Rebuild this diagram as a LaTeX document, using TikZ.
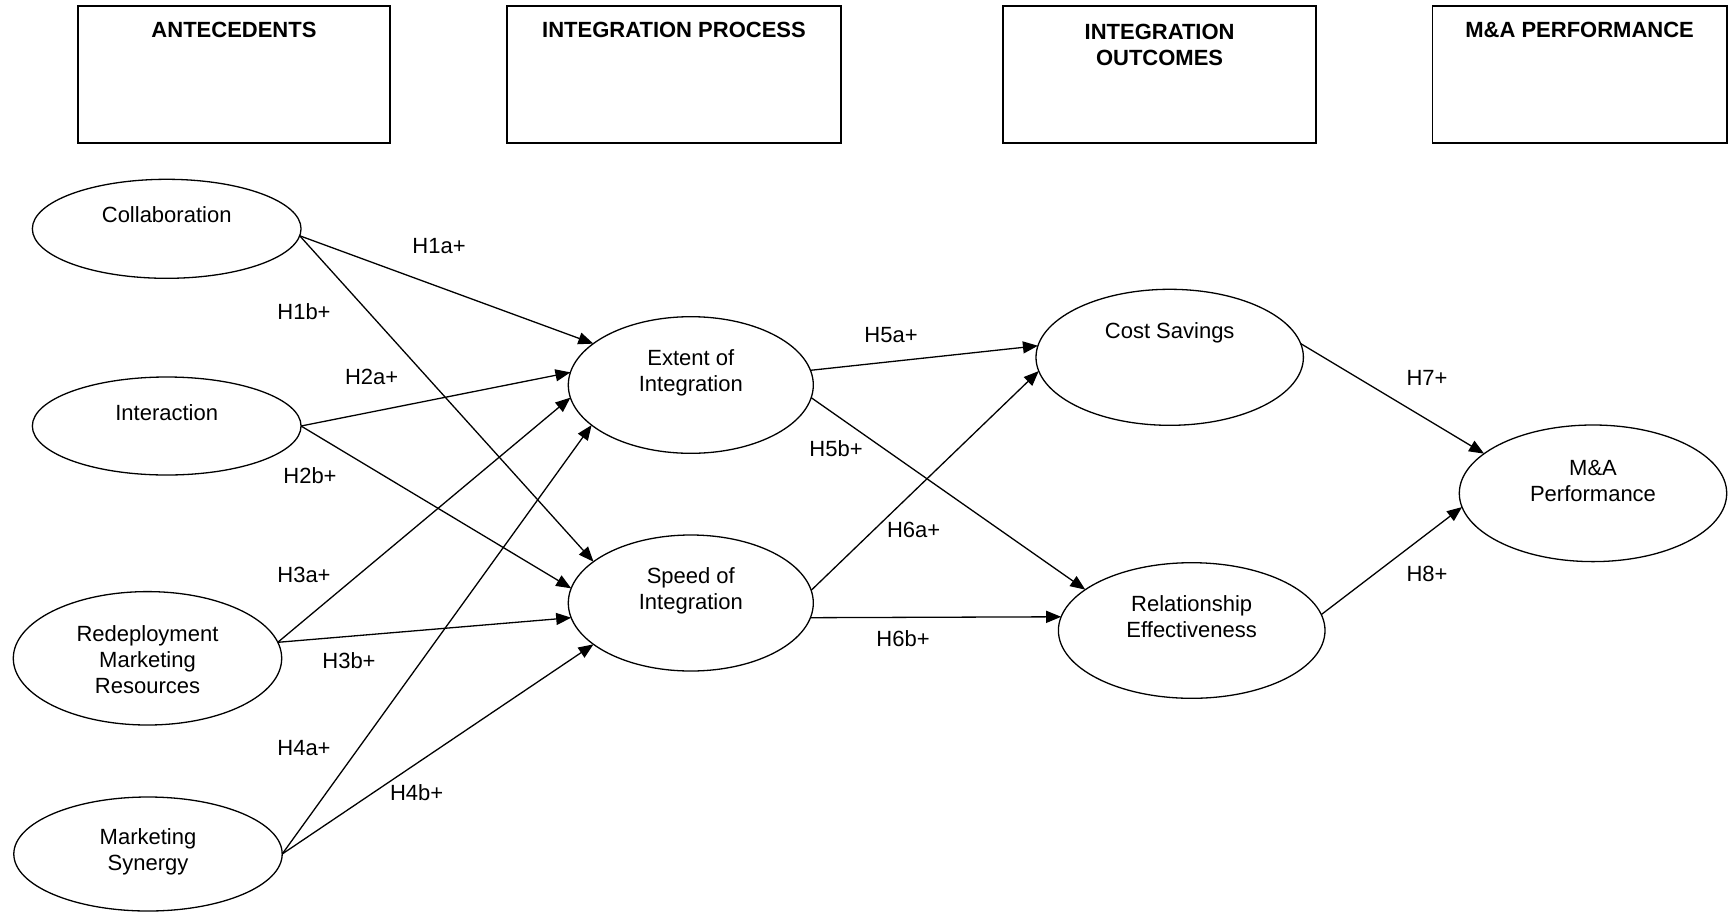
\documentclass[tikz,border=0pt]{standalone}
\usepackage{fontspec}
\setmainfont{Liberation Sans}
\usetikzlibrary{shapes.geometric,arrows.meta}
\begin{document}
\begin{tikzpicture}[x=0.5pt,y=-0.5pt,
  font=\fontsize{11}{13}\selectfont,
  hbox/.style={draw, line width=0.8pt, inner sep=0pt, outer sep=0pt},
  htext/.style={font=\fontsize{11}{13}\selectfont\bfseries, inner sep=0pt, align=center},
  oval/.style={ellipse, draw, line width=0.65pt, inner sep=0pt, outer sep=0pt},
  otext/.style={inner sep=0pt, align=center},
  conn/.style={line width=0.65pt, -{Triangle[length=7.5pt,width=6pt]}},
  hyp/.style={inner sep=0pt, anchor=base}
]
\fill[white] (0,0) rectangle (1735,911);
\useasboundingbox (0,0) rectangle (1735,911);

% header boxes
\node[hbox, minimum width=156pt, minimum height=68.4pt] (b1) at (234,74.4) {};
\node[hbox, minimum width=167pt, minimum height=68.4pt] (b2) at (674,74.4) {};
\node[hbox, minimum width=156.5pt, minimum height=68.4pt] (b3) at (1159.5,74.4) {};
\node[hbox, minimum width=147.3pt, minimum height=68.4pt] (b4) at (1579.8,74.4) {};
\node[htext, anchor=base] (t1) at (234,37.3) {ANTECEDENTS};
\node[htext, anchor=base] (t2) at (674,37.3) {INTEGRATION PROCESS};
\node[htext, anchor=north] (t3) at (1159.6,23.3) {INTEGRATION\\OUTCOMES};
\node[htext, anchor=base] (t4) at (1579.6,37.3) {M\&A PERFORMANCE};

% ellipses
\node[oval, minimum width=134.35pt, minimum height=49.5pt] (collab) at (166.7,228.8) {};
\node[oval, minimum width=134.35pt, minimum height=49pt] (inter) at (166.7,426) {};
\node[oval, minimum width=134.2pt, minimum height=66.7pt] (redeploy) at (147.5,658.3) {};
\node[oval, minimum width=134.2pt, minimum height=57pt] (synergy) at (148,854) {};
\node[oval, minimum width=122.5pt, minimum height=68.3pt] (extent) at (690.8,385) {};
\node[oval, minimum width=122.5pt, minimum height=68pt] (speed) at (690.8,603) {};
\node[oval, minimum width=133.7pt, minimum height=68pt] (cost) at (1169.7,357.3) {};
\node[oval, minimum width=133.3pt, minimum height=67.8pt] (relat) at (1191.7,630.5) {};
\node[oval, minimum width=133.7pt, minimum height=68.3pt] (mna) at (1593,493.3) {};

% ellipse texts
\node[otext, anchor=base] (collab-t) at (166.7,222.3) {Collaboration};
\node[otext, anchor=base] (inter-t) at (166.7,420) {Interaction};
\node[otext, anchor=north] (redeploy-t) at (147.5,625) {Redeployment\\Marketing\\Resources};
\node[otext, anchor=north] (synergy-t) at (148,828) {Marketing\\Synergy};
\node[otext, anchor=north] (extent-t) at (690.8,349.3) {Extent of\\Integration};
\node[otext, anchor=north] (speed-t) at (690.8,567.3) {Speed of\\Integration};
\node[otext, anchor=base] (cost-t) at (1169.7,338.3) {Cost Savings};
\node[otext, anchor=north] (relat-t) at (1191.7,595) {Relationship\\Effectiveness};
\node[otext, anchor=north] (mna-t) at (1593,460) {M\&A\\Performance};

% connectors
\draw[conn] (collab.-3) -- (extent.157);
\draw[conn] (collab.-3) -- (speed.157);
\draw[conn] (inter.east) -- (extent.174);
\draw[conn] (inter.east) -- (speed.173);
\draw[conn] (redeploy.7) -- (extent.186);
\draw[conn] (redeploy.7) -- (speed.187);
\draw[conn] (synergy.east) -- (extent.202);
\draw[conn] (synergy.east) -- (speed.203);
\draw[conn] (extent.7) -- (cost.175);
\draw[conn] (extent.-6) -- (relat.159);
\draw[conn] (speed.6) -- (cost.186);
\draw[conn] (speed.-7) -- (relat.174);
\draw[conn] (cost.6) -- (mna.160);
\draw[conn] (relat.7) -- (mna.186);

% hypothesis labels
\node[hyp] (h1a) at (439,253.3) {H1a+};
\node[hyp] (h1b) at (304,319.3) {H1b+};
\node[hyp] (h2a) at (371.7,384) {H2a+};
\node[hyp] (h2b) at (310,483) {H2b+};
\node[hyp] (h3a) at (304,582.7) {H3a+};
\node[hyp] (h3b) at (349,668.3) {H3b+};
\node[hyp] (h4a) at (304,755.7) {H4a+};
\node[hyp] (h4b) at (416.7,800) {H4b+};
\node[hyp] (h5a) at (891,342) {H5a+};
\node[hyp] (h5b) at (836,456.7) {H5b+};
\node[hyp] (h6a) at (913.7,537.3) {H6a+};
\node[hyp] (h6b) at (903,646.7) {H6b+};
\node[hyp] (h7) at (1427,385) {H7+};
\node[hyp] (h8) at (1427,581.7) {H8+};
\end{tikzpicture}
\end{document}
